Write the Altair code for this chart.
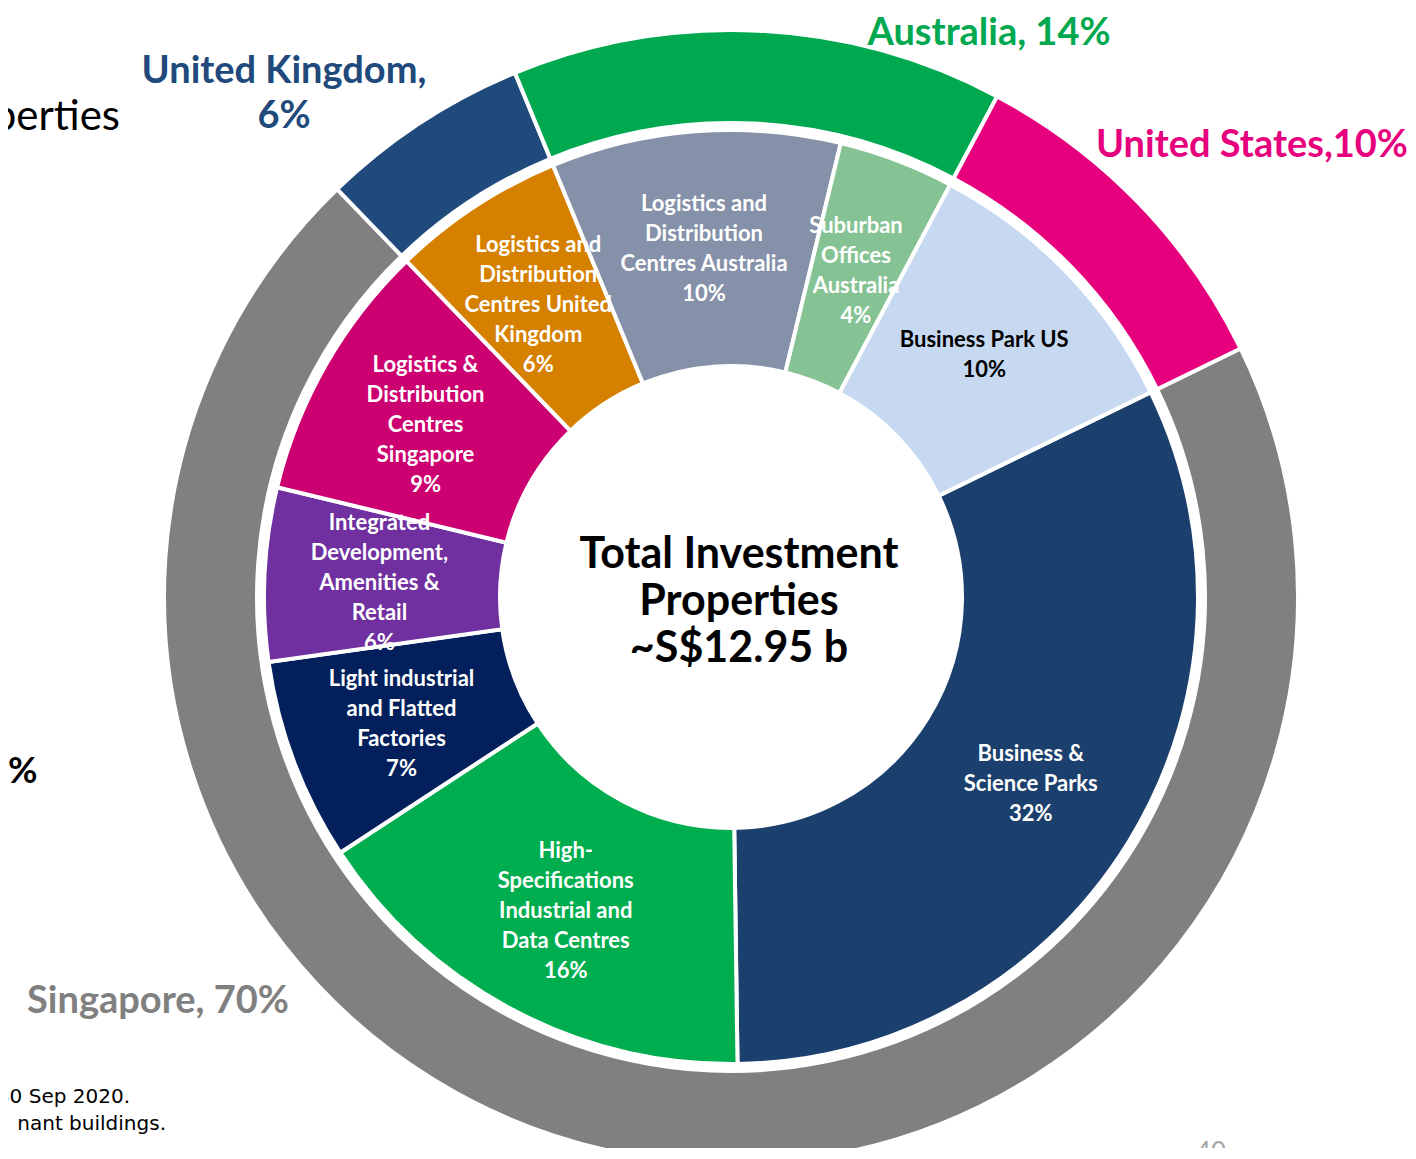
import math
import altair as alt
import pandas as pd

# ---------------- data ----------------
inner_names = [
    "Business & Science Parks",
    "High-Specifications Industrial and Data Centres",
    "Light industrial and Flatted Factories",
    "Integrated Development, Amenities & Retail",
    "Logistics & Distribution Centres Singapore",
    "Logistics and Distribution Centres United Kingdom",
    "Logistics and Distribution Centres Australia",
    "Suburban Offices Australia",
    "Business Park US",
]
inner_text = [
    "Business &\nScience Parks",
    "High-\nSpecifications\nIndustrial and\nData Centres",
    "Light industrial\nand Flatted\nFactories",
    "Integrated\nDevelopment,\nAmenities  &\nRetail",
    "Logistics &\nDistribution\nCentres\nSingapore",
    "Logistics and\nDistribution\nCentres United\nKingdom",
    "Logistics and\nDistribution\nCentres Australia",
    "Suburban\nOffices\nAustralia",
    "Business Park US",
]
inner_values = [32, 16, 7, 6, 9, 6, 10, 4, 10]
inner_colors = ["#1C406E", "#00AE4F", "#03205C", "#7030A0", "#CC0070",
                "#D68000", "#8591A9", "#86C394", "#C6D9F0"]

outer_names = ["Singapore", "United Kingdom", "Australia", "United States"]
outer_values = [70, 6, 14, 10]
outer_colors = ["#808080", "#20497C", "#00A84F", "#E6007E"]

center_text = "Total Investment\nProperties\n~S$12.95 b"

labels = [f"{t}\n{v}%" for t, v in zip(inner_text, inner_values)]
inner_df = pd.DataFrame({
    "name": inner_names,
    "value": inner_values,
    "order": list(range(len(inner_names))),
    "label": labels,
    "nlines": [s.count("\n") + 1 for s in labels],
})
outer_df = pd.DataFrame({
    "name": outer_names,
    "value": outer_values,
    "order": list(range(len(outer_names))),
})

# ---------------- layout ----------------
W, H = 1400, 1140
CX, CY = 723, 589
START = math.radians(64)
THETA_RANGE = [START, START + 2 * math.pi]
FONT = "Lato"
LINE_H = 30

outer_arc = alt.Chart(outer_df).mark_arc(
    innerRadius=474, outerRadius=567, stroke="white", strokeWidth=4
).encode(
    theta=alt.Theta("value:Q", stack=True, scale=alt.Scale(range=THETA_RANGE)),
    order=alt.Order("order:Q"),
    color=alt.Color("name:N", scale=alt.Scale(domain=outer_names, range=outer_colors), legend=None),
    x=alt.value(CX), y=alt.value(CY),
)

inner_arc = alt.Chart(inner_df).mark_arc(
    innerRadius=231, outerRadius=467, stroke="white", strokeWidth=4
).encode(
    theta=alt.Theta("value:Q", stack=True, scale=alt.Scale(range=THETA_RANGE)),
    order=alt.Order("order:Q"),
    color=alt.Color("name:N", scale=alt.Scale(domain=inner_names, range=inner_colors), legend=None),
    x=alt.value(CX), y=alt.value(CY),
)

label_base = alt.Chart(inner_df).transform_window(
    cum="sum(value)", sort=[alt.SortField("order")], frame=[None, 0]
).transform_calculate(
    mid="datum.cum - datum.value / 2"
)

label_layers = []
for n in sorted(set(inner_df["nlines"])):
    label_layers.append(
        label_base.transform_filter(alt.datum.nlines == n).mark_text(
            radius=352, font=FONT, fontSize=22, fontWeight="bold", lineBreak="\n",
            lineHeight=LINE_H, align="center", baseline="middle",
            dy=-(n - 1) * LINE_H / 2 + 3,
        ).encode(
            theta=alt.Theta("mid:Q", scale=alt.Scale(domain=[0, 100], range=THETA_RANGE)),
            text="label:N",
            fill=alt.condition(alt.datum.name == "Business Park US",
                               alt.value("black"), alt.value("white")),
            x=alt.value(CX), y=alt.value(CY),
        )
    )


def note(text, x, y, size, color, weight="bold", align="center", line_height=None, font=FONT):
    kw = dict(text=text, font=font, fontSize=size, fontWeight=weight, color=color,
              align=align, baseline="alphabetic", lineBreak="\n")
    if line_height:
        kw["lineHeight"] = line_height
    return alt.Chart(pd.DataFrame({"a": [0]})).mark_text(**kw).encode(
        x=alt.value(x), y=alt.value(y)
    )


annotations = [
    note("United Kingdom,\n6%", 276, 75, 38, "#20497C", line_height=45),
    note("Australia, 14%", 981, 37, 38, "#00A84F"),
    note("United States,10%", 1400, 149, 38, "#E6007E", align="right"),
    note("Singapore, 70%", 150, 1005, 38, "#808080"),
    note(center_text, 731, 560, 43, "black", line_height=47),
    note("perties", 112, 122, 42, "black", weight="normal", align="right"),
    note("%", 0, 775, 36, "black", align="left"),
    note("30 Sep 2020.", 122, 1095, 20, "black", weight="normal", align="right",
         font="DejaVu Sans"),
    note("nant buildings.", 158, 1122, 20, "black", weight="normal", align="right",
         font="DejaVu Sans"),
    note("40", 1203, 1153, 26, "#A6A6A6", weight="normal", align="center"),
]

chart = alt.layer(outer_arc, inner_arc, *label_layers, *annotations).resolve_scale(
    color="independent", theta="independent"
).properties(
    width=W, height=H, padding=0, autosize=alt.AutoSizeParams(type="none"),
).configure_view(stroke=None)

chart.save("out.html", embed_options={"renderer": "svg", "actions": False})
